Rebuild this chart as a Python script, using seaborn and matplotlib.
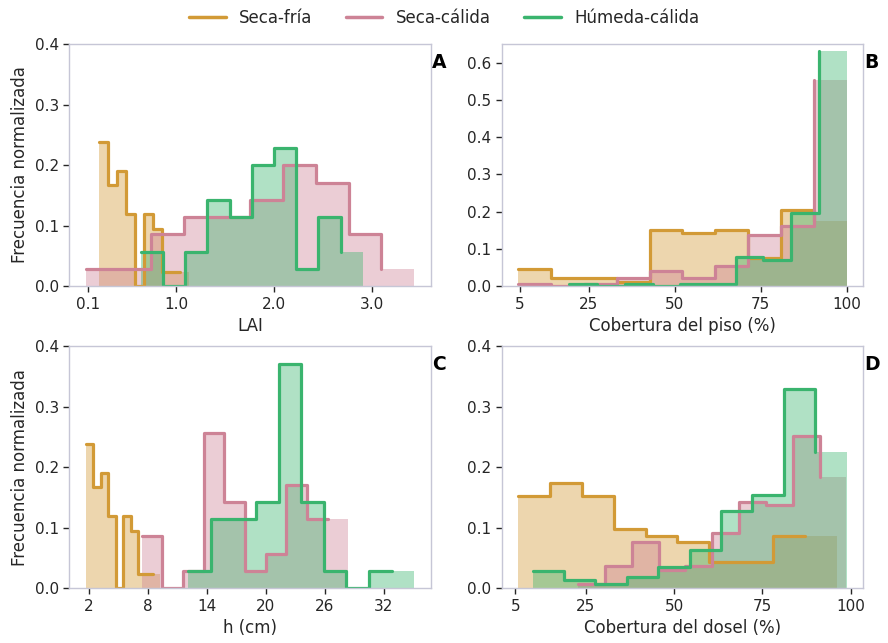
import numpy as np
import pandas as pd
import matplotlib
matplotlib.use("Agg")
import matplotlib.pyplot as plt
from matplotlib.lines import Line2D
import seaborn as sns

# Group names and colours
groups = ["Seca-fría", "Seca-cálida", "Húmeda-cálida"]
group_colors = ["#d29a36", "#cd8396", "#3ab46e"]

# Normalized frequencies (10 equal-width bins per group) and bin ranges
# Panel A: LAI
lai_range = [(0.21, 1.13), (0.077, 3.437), (0.64, 2.91)]
lai_fria = [0.238, 0.167, 0.190, 0.119, 0.0, 0.119, 0.095, 0.024, 0.024, 0.024]
lai_calida = [0.029, 0.029, 0.086, 0.114, 0.114, 0.143, 0.200, 0.171, 0.086, 0.029]
lai_humeda = [0.057, 0.0, 0.057, 0.143, 0.114, 0.200, 0.229, 0.029, 0.114, 0.057]

# Panel B: floor cover (%)
piso_range = [(4.4, 100.0), (4.4, 100.0), (19.3, 100.0)]
piso_fria = [0.045, 0.023, 0.023, 0.011, 0.152, 0.143, 0.152, 0.075, 0.205, 0.175]
piso_calida = [0.007, 0.0, 0.007, 0.023, 0.040, 0.023, 0.054, 0.137, 0.161, 0.552]
piso_humeda = [0.007, 0.0, 0.007, 0.0, 0.007, 0.007, 0.077, 0.070, 0.195, 0.630]

# Panel C: height h (cm)
h_range = [(1.7, 9.3), (7.4, 28.4), (12.1, 35.1)]
h_fria = [0.238, 0.167, 0.190, 0.119, 0.0, 0.119, 0.095, 0.024, 0.024, 0.024]
h_calida = [0.086, 0.0, 0.029, 0.257, 0.143, 0.029, 0.057, 0.171, 0.114, 0.114]
h_humeda = [0.029, 0.114, 0.114, 0.143, 0.371, 0.143, 0.029, 0.0, 0.029, 0.029]

# Panel D: canopy cover (%)
dosel_range = [(5.8, 96.1), (22.8, 98.8), (9.9, 98.9)]
dosel_fria = [0.152, 0.174, 0.152, 0.098, 0.087, 0.076, 0.043, 0.043, 0.087, 0.087]
dosel_calida = [0.007, 0.037, 0.077, 0.030, 0.037, 0.092, 0.143, 0.137, 0.252, 0.184]
dosel_humeda = [0.028, 0.014, 0.007, 0.019, 0.035, 0.064, 0.127, 0.155, 0.330, 0.225]

# Axis text
panel_letters = ["A", "B", "C", "D"]
x_labels = ["LAI", "Cobertura del piso (%)", "h (cm)", "Cobertura del dosel (%)"]
y_label = "Frecuencia normalizada"
x_ticks = [[0.1, 1.0, 2.0, 3.0], [5, 25, 50, 75, 100],
           [2, 8, 14, 20, 26, 32], [5, 25, 50, 75, 100]]
x_ticklabels = [["0.1", "1.0", "2.0", "3.0"], ["5", "25", "50", "75", "100"],
                ["2", "8", "14", "20", "26", "32"], ["5", "25", "50", "75", "100"]]
y_ticks = [[0.0, 0.1, 0.2, 0.3, 0.4], [0.0, 0.1, 0.2, 0.3, 0.4, 0.5, 0.6],
           [0.0, 0.1, 0.2, 0.3, 0.4], [0.0, 0.1, 0.2, 0.3, 0.4]]
y_max = [0.4, 0.65, 0.4, 0.4]

panels = [
    (lai_range, [lai_fria, lai_calida, lai_humeda]),
    (piso_range, [piso_fria, piso_calida, piso_humeda]),
    (h_range, [h_fria, h_calida, h_humeda]),
    (dosel_range, [dosel_fria, dosel_calida, dosel_humeda]),
]

sns.set_style("ticks")
plt.rcParams["font.family"] = ["DejaVu Sans"]

fig, axes = plt.subplots(2, 2, figsize=(8.88, 6.43), dpi=100)
fig.subplots_adjust(left=0.078, right=0.972, top=0.9316, bottom=0.085,
                    wspace=0.196, hspace=0.248)

spine_color = "#c6c6d6"
text_color = "#262626"

for i, ax in enumerate(axes.flat):
    ranges, series = panels[i]
    # shaded bars for every bin
    for (lo, hi), vals, col in zip(ranges, series, group_colors):
        edges = np.linspace(lo, hi, len(vals) + 1)
        df = pd.DataFrame({"x": 0.5 * (edges[:-1] + edges[1:]),
                           "w": np.asarray(vals, dtype=float)})
        sns.histplot(data=df, x="x", weights="w", bins=list(edges),
                     stat="count", element="step", fill=True, color=col,
                     alpha=0.4, linewidth=0, ax=ax)
    # outline drawn from the left bin edges
    for (lo, hi), vals, col in zip(ranges, series, group_colors):
        edges = np.linspace(lo, hi, len(vals) + 1)
        df = pd.DataFrame({"x": edges[:-1], "y": np.asarray(vals, dtype=float)})
        sns.lineplot(data=df, x="x", y="y", drawstyle="steps-post", color=col,
                     linewidth=2.3, ax=ax, legend=False, estimator=None)

    ax.set_ylim(0, y_max[i])
    ax.set_yticks(y_ticks[i])
    ax.set_yticklabels([f"{v:.1f}" for v in y_ticks[i]])
    ax.set_xticks(x_ticks[i])
    ax.set_xticklabels(x_ticklabels[i])
    ax.set_xlabel(x_labels[i], fontsize=12, color=text_color)
    if i % 2 == 0:
        ax.set_ylabel(y_label, fontsize=12, color=text_color)
    else:
        ax.set_ylabel("")
    ax.tick_params(axis="both", labelsize=11, colors=text_color,
                   length=4, width=1, direction="out")
    for s in ax.spines.values():
        s.set_visible(True)
        s.set_color(spine_color)
        s.set_linewidth(1.0)
    ax.text(1.003, 0.924, panel_letters[i], transform=ax.transAxes,
            fontsize=13.5, fontweight="bold", color="black",
            ha="left", va="center")

handles = [Line2D([0], [0], color=c, lw=2.5) for c in group_colors]
fig.legend(handles, groups, loc="upper center", bbox_to_anchor=(0.5, 1.01),
           ncol=3, frameon=False, fontsize=12, columnspacing=2.0,
           handlelength=2.2)

fig.savefig("out.png", dpi=100)
